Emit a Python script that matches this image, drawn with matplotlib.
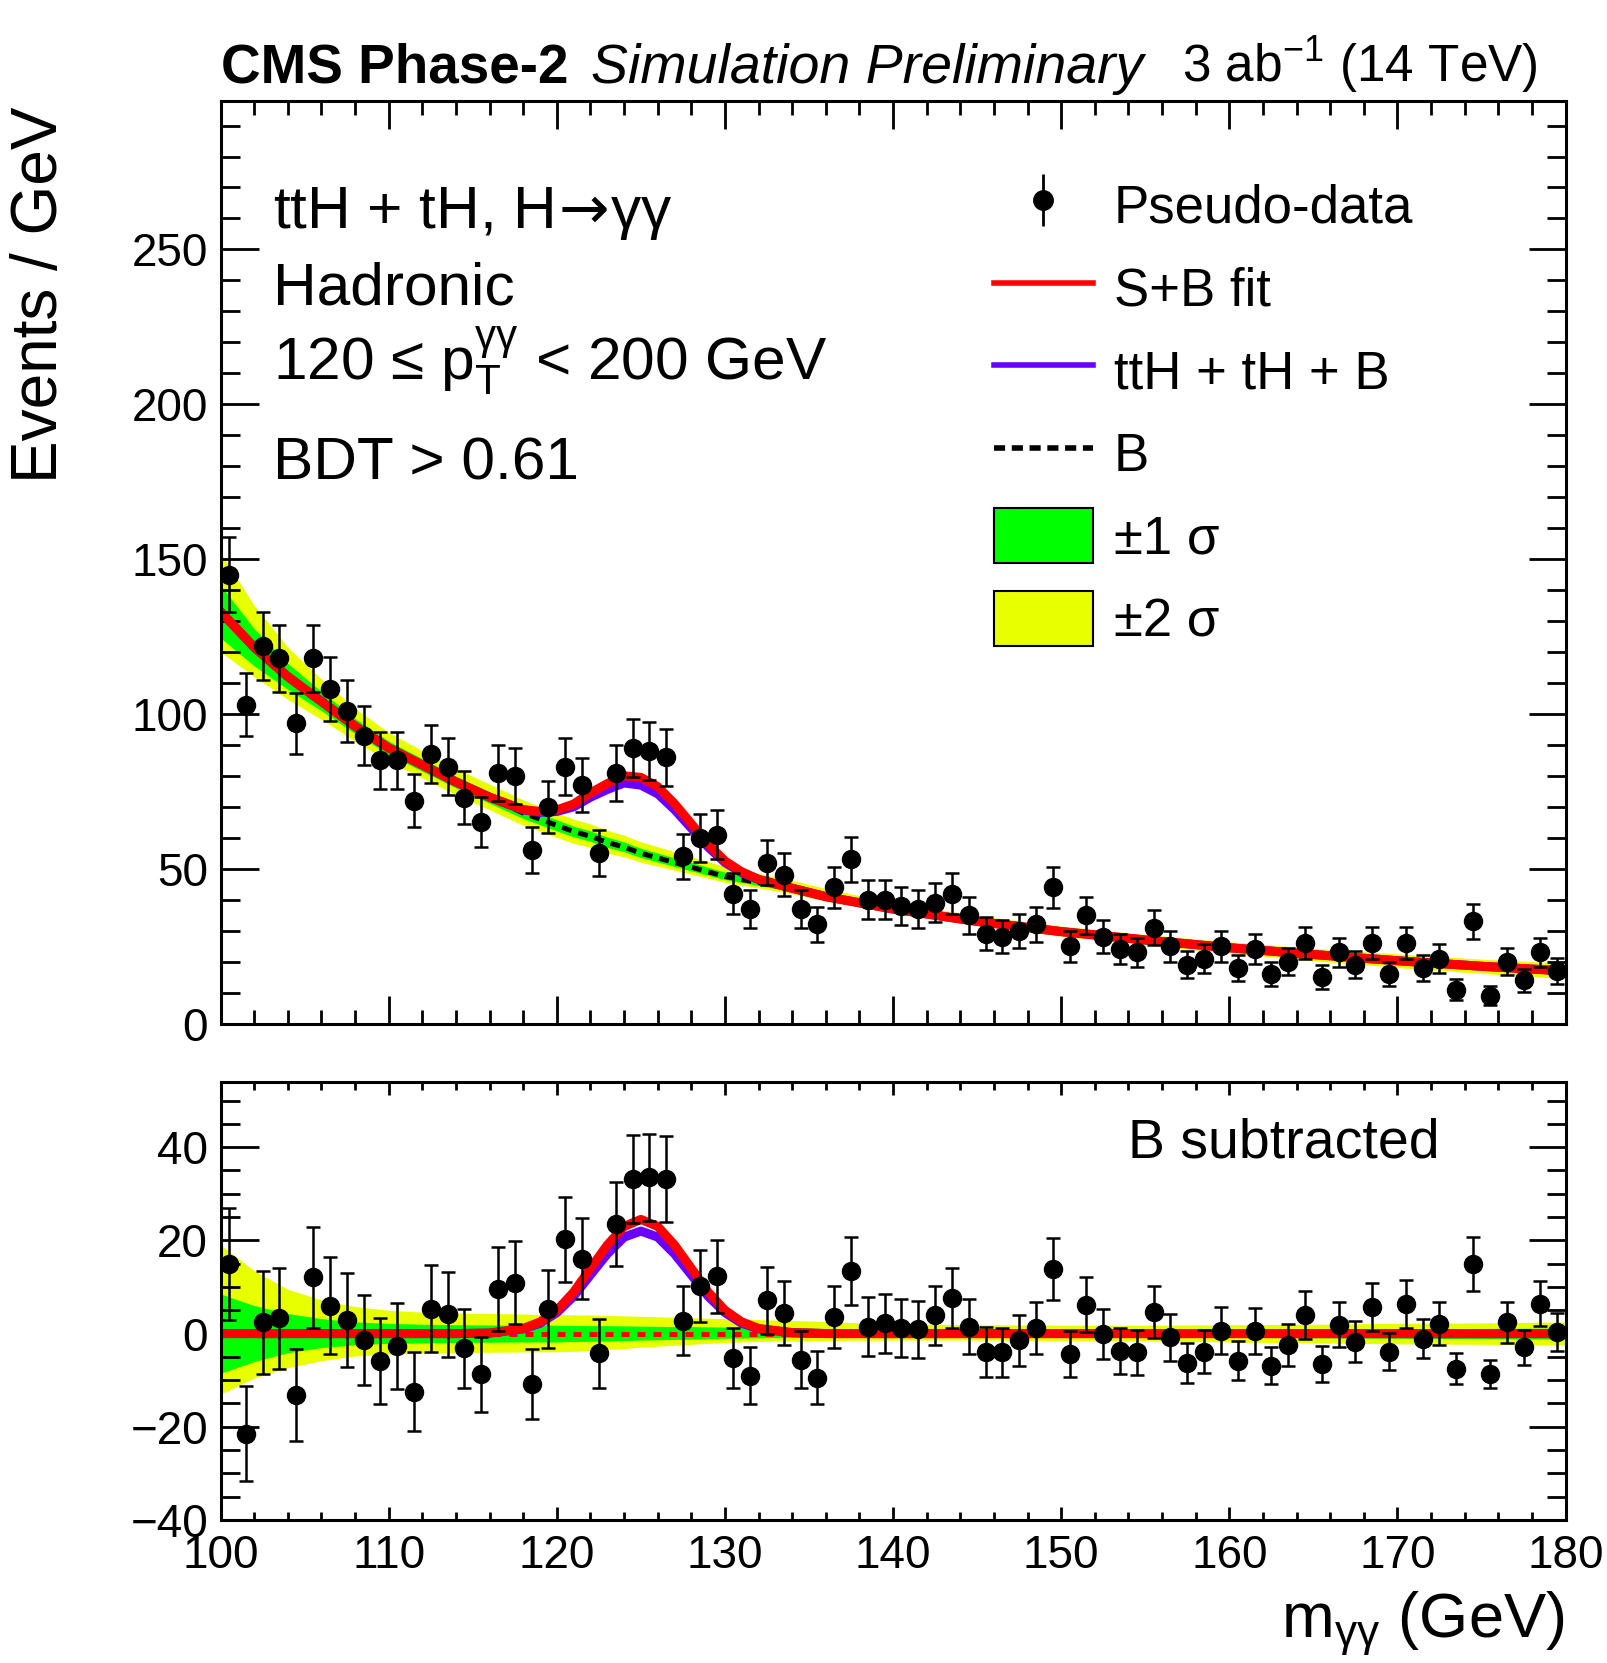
import numpy as np
import matplotlib
matplotlib.use('Agg')
import matplotlib.pyplot as plt
from matplotlib.lines import Line2D
from matplotlib.patches import Patch
from matplotlib.ticker import MultipleLocator
from matplotlib.legend_handler import HandlerErrorbar

plt.rcParams['font.family'] = ['Liberation Sans', 'DejaVu Sans']
plt.rcParams['mathtext.fontset'] = 'custom'
plt.rcParams['mathtext.rm'] = 'Liberation Sans'
plt.rcParams['mathtext.it'] = 'Liberation Sans:italic'
plt.rcParams['mathtext.bf'] = 'Liberation Sans:bold'
plt.rcParams['mathtext.sf'] = 'DejaVu Sans'

# pseudo-data, 1 GeV bins between 100 and 180 GeV
mgg = np.arange(100.5, 180, 1.0)
counts = [145, 103, 122, 118, 97, 118, 108, 101, 93, 85,
          85, 72, 87, 83, 73, 65, 81, 80, 56, 70,
          83, 77, 55, 81, 89, 88, 86, 54, 60, 61,
          42, 37, 52, 48, 37, 32, 44, 53, 40, 40,
          38, 37, 39, 42, 35, 29, 28, 30, 32, 44,
          25, 35, 28, 24, 23, 31, 25, 19, 21, 25,
          18, 24, 16, 20, 26, 15, 23, 19, 26, 16,
          26, 18, 21, 11, 33, 9, 20, 14, 23, 17]
# background subtracted points (lower panel)
bsub = [15.0, -21.5, 2.4, 3.3, -13.1, 12.1, 6.0, 2.9, -1.4, -5.8,
        -2.6, -12.5, 5.3, 4.1, -3.2, -8.7, 9.6, 10.9, -10.8, 5.2,
        20.2, 16.1, -4.2, 23.5, 33.2, 33.5, 33.2, 2.8, 10.2, 12.3,
        -5.2, -9.0, 7.1, 4.4, -5.6, -9.5, 3.5, 13.4, 1.5, 2.2,
        1.2, 0.9, 3.9, 7.6, 1.5, -3.9, -4.0, -1.4, 1.2, 13.9,
        -4.4, 6.2, -0.1, -3.7, -4.0, 4.6, -0.8, -6.3, -3.9, 0.6,
        -5.8, 0.6, -6.9, -2.4, 4.0, -6.5, 1.9, -1.7, 5.7, -3.9,
        6.4, -1.1, 2.1, -7.5, 14.9, -8.7, 2.4, -2.9, 6.4, 0.4]

# fit curves
xfit = [100, 102, 104, 106, 108, 110, 112, 114, 116, 118,
        119, 120, 121, 122, 123, 124, 125, 126, 127, 128, 129, 130, 131, 132,
        134, 136, 138, 140,
        145, 150, 155, 160, 165, 170, 175, 180]
bkg = [133, 121.5, 112, 104, 96, 89, 83.5, 78, 73, 68,
       66, 64, 62, 60.5, 58.5, 57, 55, 53.5, 52, 50.5, 49, 47.5, 46.5, 45.5,
       43.5, 41, 39, 37,
       33, 29.7, 27, 24.5, 22.3, 20.3, 18.5, 17]
sig_all = [0, 0, 0, 0, 0, 0, 0, 0, 0.1, 1.1,
           2.5, 5.0, 8.9, 14, 19, 23, 24.5, 23, 19, 14, 8.9, 5.0, 2.5, 1.1,
           0.2, 0, 0, 0,
           0, 0, 0, 0, 0, 0, 0, 0]
sig_tth = [0, 0, 0, 0, 0, 0, 0, 0, 0.1, 1.0,
           2.2, 4.5, 8.0, 12.6, 17.1, 20.7, 22, 20.7, 17.1, 12.6, 8.0, 4.5, 2.2, 1.0,
           0.2, 0, 0, 0,
           0, 0, 0, 0, 0, 0, 0, 0]
# uncertainty bands on B (offsets)
up2 = [19, 13.5, 9.5, 7.2, 5.8, 5.0, 4.6, 4.4, 4.3, 4.2,
       4.1, 4.1, 4.0, 4.0, 3.9, 3.8, 3.7, 3.6, 3.5, 3.4, 3.3, 3.2, 3.1, 3.0,
       2.8, 2.6, 2.3, 2.1,
       1.9, 1.8, 1.8, 1.9, 2.0, 2.2, 2.3, 2.5]
up1 = [8.5, 6.0, 4.3, 3.2, 2.5, 2.2, 2.0, 1.9, 1.85, 1.8,
       1.8, 1.8, 1.75, 1.7, 1.7, 1.65, 1.6, 1.55, 1.5, 1.5, 1.45, 1.4, 1.35, 1.3,
       1.2, 1.1, 1.0, 0.9,
       0.85, 0.8, 0.8, 0.9, 0.95, 1.0, 1.1, 1.2]
dn1 = [8.5, 6.0, 4.1, 3.0, 2.4, 2.1, 2.0, 1.9, 1.85, 1.8,
       1.8, 1.8, 1.7, 1.65, 1.6, 1.5, 1.4, 1.35, 1.25, 1.2, 1.1, 1.0, 0.95, 0.9,
       0.85, 0.8, 0.75, 0.7,
       0.7, 0.7, 0.75, 0.8, 0.9, 1.0, 1.1, 1.2]
dn2 = [13, 9.5, 7.3, 5.8, 4.8, 4.4, 4.2, 4.1, 4.0, 3.95,
       3.9, 3.9, 3.8, 3.6, 3.4, 3.2, 2.9, 2.7, 2.5, 2.3, 2.1, 1.9, 1.8, 1.7,
       1.6, 1.5, 1.45, 1.4,
       1.4, 1.5, 1.6, 1.8, 2.0, 2.2, 2.3, 2.5]

counts = np.array(counts, dtype=float)
err = np.sqrt(counts)
xfit = np.array(xfit, dtype=float)
bkg = np.array(bkg)
sig_all = np.array(sig_all)
sig_tth = np.array(sig_tth)
up1, up2, dn1, dn2 = map(np.array, (up1, up2, dn1, dn2))

RED = '#ff0000'
PURPLE = '#6a00ff'
GREEN = '#00ff00'
YELLOW = '#e8ff00'

fig = plt.figure(figsize=(16.08, 16.63), dpi=100)
ax1 = fig.add_axes([0.1372, 0.3845, 0.8364, 0.5549])
ax2 = fig.add_axes([0.1372, 0.0860, 0.8364, 0.2634])

# ---- top panel
ax1.fill_between(xfit, bkg - dn2, bkg + up2, color=YELLOW, lw=0)
ax1.fill_between(xfit, bkg - dn1, bkg + up1, color=GREEN, lw=0)
ax1.plot(xfit, bkg, color='k', lw=3.6, ls=(0, (2.0, 1.4)))
ax1.plot(xfit, bkg + sig_tth, color=PURPLE, lw=6.5)
ax1.plot(xfit, bkg + sig_all, color=RED, lw=6.5)
ax1.errorbar(mgg, counts, yerr=err, fmt='o', color='k', ms=13,
             elinewidth=1.8, capsize=4.8, capthick=1.8)
# legend proxy for the data (no caps, like the original)
data_proxy = ax1.errorbar([np.nan], [np.nan], yerr=[1.0], fmt='o', color='k',
                          ms=14, elinewidth=2.0)

ax1.set_xlim(100, 180)
ax1.set_ylim(0, 298)

# ---- bottom panel
zero = np.zeros_like(xfit)
ax2.fill_between(xfit, -dn2, up2, color=YELLOW, lw=0)
ax2.fill_between(xfit, -dn1, up1, color=GREEN, lw=0)
ax2.plot(xfit, zero, color=RED, lw=3.6, ls=(0, (1.6, 1.6)))
ax2.plot(xfit, sig_tth, color=PURPLE, lw=6.5)
ax2.plot(xfit, sig_all, color=RED, lw=6.5)
ax2.errorbar(mgg, bsub, yerr=err, fmt='o', color='k', ms=13,
             elinewidth=1.8, capsize=4.8, capthick=1.8)
ax2.set_xlim(100, 180)
ax2.set_ylim(-40, 54)

for ax in (ax1, ax2):
    for s in ax.spines.values():
        s.set_linewidth(2.2)
    ax.xaxis.set_major_locator(MultipleLocator(10))
    ax.xaxis.set_minor_locator(MultipleLocator(2))
    ax.tick_params(which='both', direction='in', top=True, right=True, width=2.0,
                   labelsize=33)
    ax.tick_params(axis='y', which='major', length=27, pad=9)
    ax.tick_params(axis='y', which='minor', length=14)

ax1.yaxis.set_major_locator(MultipleLocator(50))
ax1.yaxis.set_minor_locator(MultipleLocator(10))
ax1.tick_params(axis='x', which='major', length=20, labelbottom=False)
ax1.tick_params(axis='x', which='minor', length=10)
ax2.yaxis.set_major_locator(MultipleLocator(20))
ax2.yaxis.set_minor_locator(MultipleLocator(5))
ax2.tick_params(axis='x', which='major', length=9.5, pad=10)
ax2.tick_params(axis='x', which='minor', length=6)

# ---- texts
ax1.text(0, 1.0196, 'CMS Phase-2', transform=ax1.transAxes, fontsize=39.5,
         fontweight='bold', ha='left', va='baseline')
ax1.text(0.2752, 1.0196, 'Simulation Preliminary', transform=ax1.transAxes,
         fontsize=40, style='italic', ha='left', va='baseline')
ax1.text(0.9795, 1.0196, r'3 ab$^{-1}$ (14 TeV)', transform=ax1.transAxes,
         fontsize=37, ha='right', va='baseline')

tx = 0.0387
fs_lab = 43.5
ax1.text(tx, 0.862, 'ttH + tH, H$\\!\\mathsf{\\rightarrow}\\!$\u03b3\u03b3',
         transform=ax1.transAxes, fontsize=fs_lab, va='baseline')
ax1.text(tx, 0.7794, 'Hadronic', transform=ax1.transAxes, fontsize=fs_lab, va='baseline')
ax1.text(tx, 0.6978, '120 \u2264 $\\mathrm{p}_{\\mathrm{T}}^{\\mathrm{\\gamma\\gamma}}$ < 200 GeV',
         transform=ax1.transAxes, fontsize=fs_lab, va='baseline')
ax1.text(tx, 0.5897, 'BDT > 0.61', transform=ax1.transAxes, fontsize=fs_lab, va='baseline')

ax2.text(0.906, 0.86, 'B subtracted', transform=ax2.transAxes, fontsize=40,
         ha='right', va='center')

fig.text(0.0249, 0.9360, 'Events / GeV', rotation=90, fontsize=46,
         ha='center', va='top')
fig.text(0.973, 0.0158, r'm$_{\mathrm{\gamma\gamma}}$ (GeV)', fontsize=45.5,
         ha='right', va='baseline')

# ---- legend
handles = [data_proxy,
           Line2D([], [], color=RED, lw=4),
           Line2D([], [], color=PURPLE, lw=4),
           Line2D([], [], color='k', lw=4, ls=(0, (2.0, 1.2))),
           Patch(facecolor=GREEN, edgecolor='k', lw=1.5),
           Patch(facecolor=YELLOW, edgecolor='k', lw=1.5)]
labels = ['Pseudo-data', 'S+B fit', 'ttH + tH + B', 'B', '\u00b11 \u03c3', '\u00b12 \u03c3']
ax1.legend(handles, labels, loc='upper left', bbox_to_anchor=(0.575, 0.917),
           frameon=False, fontsize=38, handlelength=1.87, handleheight=1.23,
           handletextpad=0.4, labelspacing=0.5, borderpad=0, borderaxespad=0,
           handler_map={type(data_proxy): HandlerErrorbar(yerr_size=0.5)})

fig.savefig('out.png', dpi=100)
